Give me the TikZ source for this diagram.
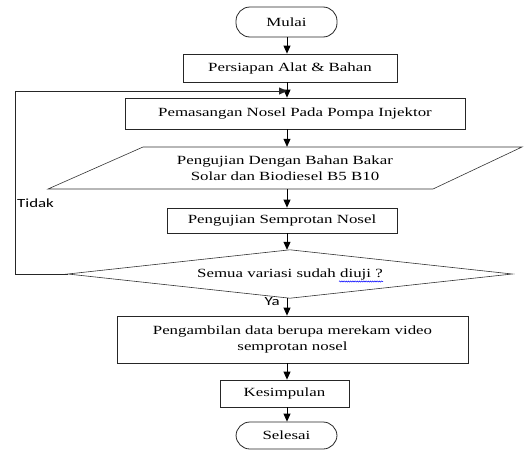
\documentclass[tikz,border=0pt]{standalone}
\usepackage{fontspec}
\setmainfont[FakeStretch=1.35]{Liberation Serif}
\newfontfamily\lblfont[FakeStretch=1.35]{Carlito}
\usetikzlibrary{arrows.meta,decorations.pathmorphing}
\begin{document}
\begin{tikzpicture}[x=1pt,y=-1pt,
  base/.style={font=\fontsize{12.5}{16}\selectfont, align=center, inner sep=0pt},
  box/.style={base, draw=black!85, line width=0.8pt},
  term/.style={base, draw=black!85, line width=0.8pt, rounded corners=14pt},
  shp/.style={base},
  lbl/.style={font=\lblfont\fontsize{12.5}{14}\selectfont, inner sep=0pt},
  tip/.style={-{Triangle[width=7pt,length=8pt]}},
  arr/.style={line width=0.8pt, tip},
  lin/.style={line width=0.8pt, draw=black!85},
  thin/.style={line width=0.6pt, draw=black!80}]
\useasboundingbox (0,0) rectangle (526,450);
\coordinate (spine) at (287,0);

\node[term, minimum width=101pt, minimum height=30pt] (mulai) at (286.5,22) {Mulai};
\node[box, minimum width=214pt, minimum height=28pt] (persiapan) at (290,68) {Persiapan Alat \& Bahan};
\node[box, minimum width=340pt, minimum height=31pt] (pemasangan) at (295,113.5) {Pemasangan Nosel Pada Pompa Injektor};
\node[shp, minimum width=380pt, minimum height=42pt] (uji) at (285,168) {Pengujian Dengan Bahan Bakar\\Solar dan Biodiesel B5 B10};
\draw[thin] (143,147) -- (522,147) -- (433,189) -- (48,189) -- cycle;
\node[box, minimum width=230pt, minimum height=25pt] (semprot) at (282,220.5) {Pengujian Semprotan Nosel};
\node[shp, minimum width=444pt, minimum height=48pt] (dec) at (290,274) {};
\draw[thin] (dec.west) -- (dec.north) -- (dec.east) -- (dec.south) -- cycle;
\node[base] (dectext) at (290,274) {Semua variasi sudah diuji ?};
\draw[blue, line width=0.5pt, decorate, decoration={snake, amplitude=0.6pt, segment length=2.2pt}] (339,281.5) -- (383,281.5);
\node[box, minimum width=351pt, minimum height=47pt] (ambil) at (292.5,339.5) {Pengambilan data berupa merekam video\\semprotan nosel};
\node[box, minimum width=129pt, minimum height=27pt] (kesimpulan) at (284.5,393.5) {Kesimpulan};
\node[term, minimum width=101pt, minimum height=27pt] (selesai) at (286.5,435.5) {Selesai};

\coordinate (fbL) at (15,0);
\coordinate (fbT) at (0,91);

\draw[arr] (mulai.south -| spine) -- (persiapan.north -| spine);
\draw[arr] (persiapan.south -| spine) -- (pemasangan.north -| spine);
\draw[arr] (pemasangan.south -| spine) -- (uji.north -| spine);
\draw[arr] (uji.south -| spine) -- (semprot.north -| spine);
\draw[arr] (semprot.south -| spine) -- (dec.north -| spine);
\draw[arr] (dec.south -| spine) -- (ambil.north -| spine);
\draw[arr] (ambil.south -| spine) -- (kesimpulan.north -| spine);
\draw[arr] (kesimpulan.south -| spine) -- (selesai.north -| spine);
\draw[lin, tip] (dec.west) -- (dec.west -| fbL) -- (fbL |- fbT) -- (spine |- fbT);

\node[lbl, anchor=west] (tidak) at (17,203) {Tidak};
\node[lbl, anchor=east] (ya) at (280,302) {Ya};
\end{tikzpicture}
\end{document}
